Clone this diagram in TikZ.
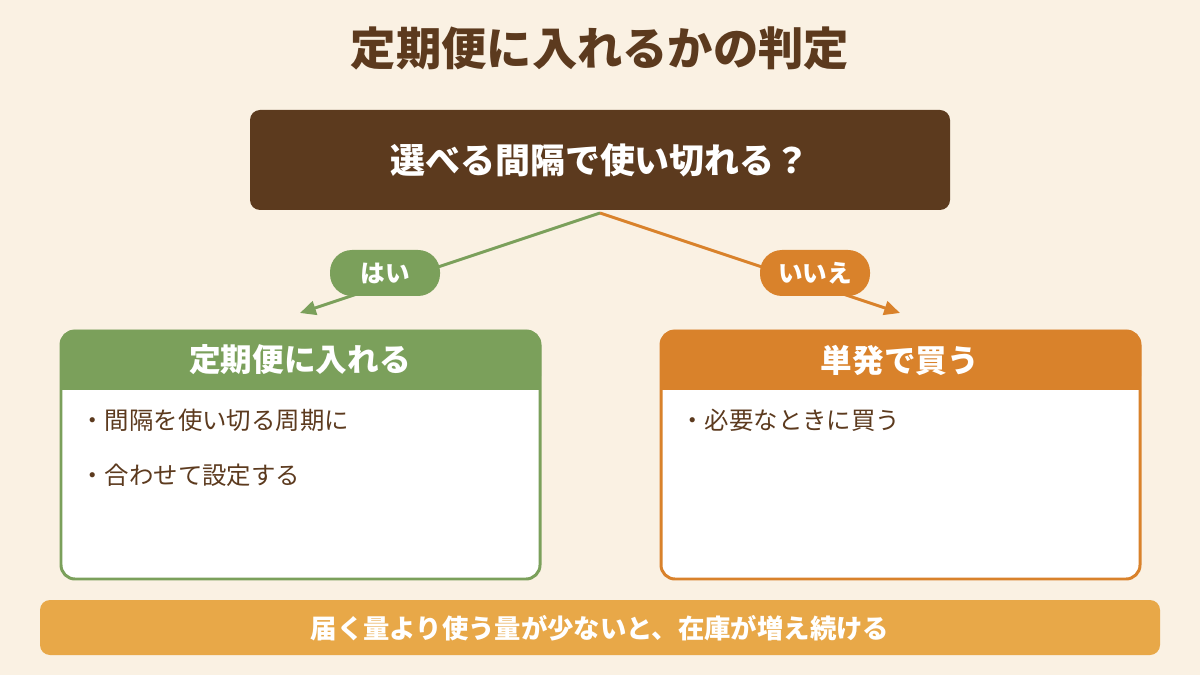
\documentclass[tikz,border=0pt]{standalone}
\usepackage{fontspec}
\setmainfont{Noto Sans CJK JP}
\usetikzlibrary{arrows.meta}
\definecolor{bg}{HTML}{FAF1E3}
\definecolor{brown}{HTML}{5C3A1E}
\definecolor{grn}{HTML}{7BA05B}
\definecolor{org}{HTML}{D9822B}
\definecolor{bar}{HTML}{E8A848}
\tikzset{
  pill/.style={rounded corners=22*0.02cm, minimum height=46*0.02cm, minimum width=110*0.02cm, text=white, font=\fontsize{14}{16}\selectfont\bfseries, inner sep=0pt},
  head/.style={text=white, font=\fontsize{18}{21}\selectfont\bfseries},
  bul/.style={text=brown, anchor=west, font=\fontsize{13.9}{16}\selectfont, inner sep=0pt},
  conn/.style={line width=1.7pt, -{Triangle[length=9pt,width=8pt]}},
}
\begin{document}
\begin{tikzpicture}[x=0.02cm,y=-0.02cm]
\fill[bg] (0,0) rectangle (1200,675);
\useasboundingbox (0,0) rectangle (1200,675);
% title
\node[text=brown, font=\fontsize{25.8}{30}\selectfont\bfseries] (title) at (600,48) {定期便に入れるかの判定};
% top box
\fill[brown, rounded corners=10*0.02cm] (250,110) rectangle (950,210);
\node[text=white, font=\fontsize{19.9}{23}\selectfont\bfseries] (q) at (600,160) {選べる間隔で使い切れる？};
\coordinate (split) at (600,213);
\coordinate (ltip) at (300,313);
\coordinate (rtip) at (900,313);
\draw[conn, grn] (split) -- (ltip);
\draw[conn, org] (split) -- (rtip);
\node[pill, fill=grn] (yes) at (385,273) {はい};
\node[pill, fill=org] (no) at (815,273) {いいえ};
% left box
\draw[grn, line width=1.7pt, fill=white, rounded corners=14*0.02cm] (61,331) rectangle (540,579);
\fill[grn, rounded corners=14*0.02cm] (60,330) rectangle (541,390);
\fill[grn] (60,360) rectangle (541,390);
\node[head] (lh) at (300,360) {定期便に入れる};
\node[bul] (l1) at (80,420) {・間隔を使い切る周期に};
\node[bul] (l2) at (80,475) {・合わせて設定する};
% right box
\draw[org, line width=1.7pt, fill=white, rounded corners=14*0.02cm] (661,331) rectangle (1140,579);
\fill[org, rounded corners=14*0.02cm] (660,330) rectangle (1141,390);
\fill[org] (660,360) rectangle (1141,390);
\node[head] (rh) at (900,360) {単発で買う};
\node[bul] (r1) at (680,420) {・必要なときに買う};
% bottom bar
\fill[bar, rounded corners=10*0.02cm] (40,600) rectangle (1160,655);
\node[text=white, font=\fontsize{15}{17}\selectfont\bfseries] (note) at (600,628) {届く量より使う量が少ないと、在庫が増え続ける};
\end{tikzpicture}
\end{document}
